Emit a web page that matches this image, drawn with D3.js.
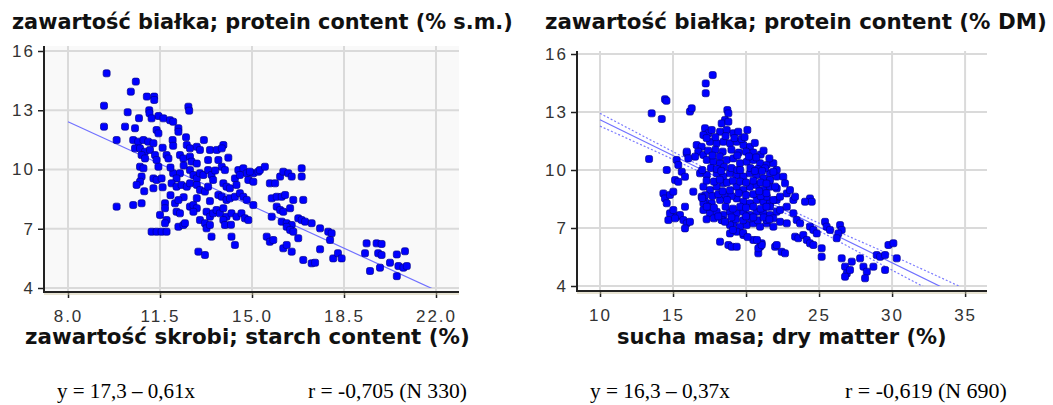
<!DOCTYPE html>
<html>
<head>
<meta charset="utf-8">
<script src="https://cdn.jsdelivr.net/npm/d3@7"></script>
<style>
  body { margin: 0; background: #fff; }
</style>
</head>
<body>
<svg id="chart" width="1053" height="405"></svg>
<script>
// starch content (%) vs protein content (% DM)
const starchPoints = [
  [9.47,14.87],[10.58,14.45],[10.39,13.94],[11.0,13.69],[11.28,13.69],[11.28,13.52],[9.37,13.23],[10.27,12.9],
  [11.09,13.0],[11.1,12.85],[12.58,13.18],[12.61,12.98],[11.44,12.71],[11.63,12.59],[11.88,12.5],[12.0,12.42],
  [11.18,12.59],[9.37,12.17],[10.17,12.17],[10.55,12.09],[11.37,12.0],[11.44,11.83],[12.2,12.09],[12.2,11.91],
  [12.49,11.63],[9.85,11.49],[11.98,11.49],[13.17,11.49],[10.48,11.49],[10.67,11.41],[10.87,11.49],[11.05,11.41],
  [11.25,11.33],[10.55,11.07],[10.74,11.07],[10.93,10.9],[11.12,10.99],[12.52,11.24],[12.64,11.07],[12.9,11.15],
  [13.02,10.99],[13.4,10.99],[13.66,10.99],[13.91,11.24],[13.85,11.07],[10.8,10.73],[10.93,10.56],[11.31,10.73],
  [11.37,10.48],[11.75,10.73],[11.82,10.56],[12.26,10.73],[12.39,10.56],[12.64,10.65],[12.7,10.4],[13.72,10.48],
  [13.85,10.14],[13.97,9.97],[13.33,10.48],[10.74,10.14],[10.87,10.06],[11.44,10.14],[12.0,9.81],[12.26,9.81],
  [12.13,9.55],[12.64,9.97],[12.77,9.72],[12.9,9.55],[13.02,9.81],[13.15,9.72],[13.33,9.97],[13.46,9.72],
  [13.52,9.47],[14.48,9.97],[14.67,10.06],[14.8,9.81],[15.05,9.81],[15.24,9.89],[14.35,9.55],[14.54,9.72],
  [14.86,9.47],[10.8,9.64],[10.74,9.38],[10.61,9.22],[11.25,9.55],[11.37,9.47],[11.56,9.55],[11.25,9.05],
  [11.94,9.3],[12.13,9.13],[12.32,9.22],[12.52,9.13],[12.64,9.3],[12.9,9.22],[13.02,8.96],[13.21,8.88],
  [13.33,9.13],[13.91,9.3],[14.03,9.13],[14.16,9.05],[14.41,9.22],[13.72,8.71],[13.85,8.62],[14.03,8.46],
  [14.16,8.54],[14.35,8.62],[14.54,8.8],[14.67,8.62],[14.8,8.46],[15.05,8.2],[9.85,8.12],[10.48,8.2],
  [10.8,8.29],[11.69,8.29],[11.69,8.04],[12.07,8.29],[12.13,7.86],[12.26,7.78],[12.64,8.12],[12.77,8.2],
  [12.9,8.04],[12.77,7.86],[13.27,7.86],[13.4,7.61],[13.52,7.78],[13.65,7.95],[13.78,7.78],[13.91,8.04],
  [14.03,7.61],[14.22,7.78],[14.41,7.61],[14.6,7.78],[14.73,7.53],[14.86,7.44],[11.5,7.7],[11.75,7.44],
  [11.69,7.28],[12.2,7.1],[12.39,7.19],[12.45,7.28],[13.02,7.44],[13.21,7.28],[13.27,7.02],[13.4,7.19],
  [13.91,7.44],[13.97,7.19],[11.18,6.85],[11.37,6.85],[11.56,6.85],[11.75,6.85],[13.46,6.6],[14.22,6.6],
  [14.35,6.18],[12.96,5.84],[13.21,5.67],[14.92,9.89],[15.05,9.38],[15.3,9.97],[15.49,10.14],[15.68,9.3],
  [15.88,9.3],[16.07,9.64],[16.19,9.89],[16.38,9.81],[16.51,9.64],[16.89,10.06],[16.89,9.64],[15.75,8.54],
  [15.94,8.62],[16.13,8.62],[16.26,8.71],[16.57,8.46],[16.95,8.46],[15.94,8.12],[16.07,7.95],[16.19,7.86],
  [16.45,8.04],[15.75,7.61],[16.13,7.36],[16.32,7.28],[16.51,7.19],[16.76,7.53],[16.89,7.44],[17.02,7.36],
  [17.27,7.28],[17.59,7.02],[17.9,6.85],[18.03,6.77],[16.32,7.1],[16.45,6.94],[16.57,6.85],[16.76,6.52],
  [15.56,6.6],[15.68,6.34],[15.81,6.43],[16.19,6.01],[16.32,6.18],[16.51,5.84],[16.95,5.42],[17.27,5.25],
  [17.4,5.28],[17.59,5.96],[17.97,6.43],[18.09,5.5],[18.27,5.76],[18.41,5.5],[19.3,5.76],[19.36,6.26],
  [19.74,6.26],[19.93,6.23],[19.8,5.76],[19.93,5.67],[19.49,4.86],[19.87,5.03],[20.25,5.28],[20.51,5.7],
  [20.82,5.86],[20.57,5.11],[20.76,5.03],[20.89,5.11],[20.51,4.6],
  [12.4,10.2],[12.9,10.3],[11.9,10.1],[12.4,8.6],[12.9,8.55],[13.4,8.4],[11.9,8.7],[12.2,8.45],
  [13.6,9.95],[14.1,10.6],[11.6,11.1],[12.0,11.2],[10.7,12.6],[10.9,8.9],[11.6,9.1],[14.2,7.2]
];

// dry matter (%) vs protein content (% DM)
const dryMatterPoints = [
  [17.72,14.91],[17.24,14.48],[17.24,13.97],[14.45,13.66],[14.55,13.58],[13.54,12.93],[14.23,12.64],[16.16,13.02],
  [16.28,13.19],[13.36,10.57],[14.57,10.0],[15.25,10.52],[15.36,10.26],[15.6,9.91],[15.82,9.65],[15.94,10.86],
  [15.14,9.48],[15.36,9.39],[14.34,8.79],[14.45,8.53],[14.57,8.28],[14.79,8.71],[15.02,8.88],[14.79,7.76],
  [15.02,7.93],[15.25,7.58],[15.48,7.67],[15.82,8.1],[14.68,7.41],[15.14,7.5],[15.71,7.41],[15.94,7.24],
  [16.16,7.32],[16.39,8.88],[15.82,6.98],[18.22,6.29],[18.79,6.12],[19.02,6.03],[19.36,6.03],[20.96,6.03],
  [20.84,5.69],[21.07,6.21],[18.72,13.1],[18.79,12.93],[18.56,12.59],[18.33,12.41],[18.79,12.5],[17.19,12.16],
  [17.42,11.9],[17.08,11.81],[17.65,12.07],[18.22,11.98],[18.68,12.07],[19.13,11.9],[19.47,11.98],[20.09,12.07],
  [16.62,11.29],[16.96,11.2],[16.73,10.95],[17.08,10.78],[16.51,10.69],[17.53,11.46],[17.99,11.38],[18.45,11.46],
  [18.9,11.38],[19.36,11.46],[19.82,11.29],[20.27,11.2],[15.94,10.95],[16.05,10.6],
  [17.31,10.52],[17.76,10.43],[18.22,10.35],[18.68,10.52],[19.13,10.6],[19.59,10.35],[20.05,10.43],[20.5,10.52],
  [20.96,10.35],[21.42,10.26],[21.87,10.35],[22.1,10.0],
  [16.85,9.83],[17.31,9.74],[17.99,9.83],[18.45,9.66],[18.9,9.83],[19.36,9.74],[19.82,9.66],[20.27,9.83],
  [20.73,9.74],[21.19,9.57],[21.64,9.83],[22.1,9.66],
  [17.08,9.14],[17.53,8.96],[17.99,9.14],[18.45,9.31],[19.36,9.14],[19.82,8.96],[20.27,9.14],[20.73,9.22],
  [21.19,8.96],[21.64,9.14],[22.1,9.05],
  [17.19,8.36],[17.65,8.28],[18.22,8.45],[19.36,8.53],[19.82,8.36],[20.27,8.28],[20.73,8.45],[21.19,8.36],
  [21.64,8.28],[22.1,8.45],
  [17.08,7.93],[17.53,7.76],[17.99,7.84],[18.45,7.67],[18.9,7.84],[19.36,7.76],[19.82,7.84],[20.27,7.67],
  [20.73,7.84],[21.19,7.76],[21.64,7.67],[22.1,7.84],
  [19.13,7.24],[19.59,7.07],[20.05,7.15],[20.5,7.24],[20.96,7.07],[21.42,7.24],[21.87,7.07],
  [18.9,6.72],[19.36,6.81],[19.82,6.64],[20.5,6.38],[20.84,5.95],[21.07,6.12],[21.99,6.03],
  [21.3,10.09],[21.87,9.91],[21.64,9.48],[21.99,9.14],[22.55,9.65],[22.67,9.31],[22.79,8.79],[23.01,8.96],
  [23.24,8.45],[23.36,8.62],[24.38,8.53],[24.5,8.36],[24.04,8.36],
  [21.42,8.62],[21.87,8.45],[22.33,8.62],[21.64,8.1],[22.33,7.93],[22.79,8.1],
  [23.24,7.76],[23.47,7.41],[23.7,7.24],[21.42,7.41],[21.87,7.5],[22.33,7.32],[22.79,7.24],
  [23.36,6.55],[23.58,6.47],[23.92,6.64],[24.16,6.38],[24.38,6.21],[24.61,6.12],[24.38,7.07],[24.61,6.9],[24.84,6.72],
  [22.1,6.12],[22.44,5.77],[22.67,5.69],
  [25.18,5.95],[25.18,5.51],[25.41,7.32],[25.52,7.07],[25.75,6.9],
  [26.44,7.15],[26.55,6.9],[26.32,6.72],[26.21,6.47],
  [26.55,5.43],[26.78,5.0],[26.9,4.65],[27.24,5.26],[27.12,4.83],[26.78,4.48],
  [27.81,5.43],[28.04,5.0],[28.27,4.74],[28.15,4.4],[28.72,5.0],[28.95,5.6],[29.18,5.51],[29.52,5.6],
  [29.75,6.12],[30.09,6.21],[30.32,5.43],[29.52,4.83],
  [17.3,11.65],[17.9,11.7],[18.6,11.75],[19.2,11.65],[19.7,11.6],
  [17.4,11.0],[17.9,11.05],[18.4,10.95],[19.0,11.05],[19.5,10.9],[20.0,10.95],[20.5,10.9],[21.0,10.8],
  [17.6,10.1],[18.0,10.05],[18.5,10.15],[19.0,10.1],[19.4,10.0],[20.3,10.1],[20.8,10.05],
  [17.3,9.45],[17.8,9.4],[18.2,9.5],[18.7,9.35],[19.1,9.45],[19.6,9.4],[20.0,9.35],[20.5,9.45],[21.0,9.35],[21.4,9.3],
  [17.2,8.7],[17.7,8.65],[18.1,8.75],[18.6,8.7],[19.0,8.65],[19.5,8.8],[20.0,8.7],[20.5,8.75],[21.0,8.65],[21.4,8.8],
  [17.4,8.1],[17.8,8.05],[18.6,8.1],[19.1,8.0],[19.6,8.1],[20.0,8.05],[20.5,8.1],[21.0,8.0],[21.4,8.1],
  [17.3,7.45],[17.8,7.5],[18.4,7.4],[19.3,7.45],[19.8,7.4],[20.3,7.5],[20.8,7.4],[21.2,7.55],
  [18.9,7.15],[19.1,6.9],[19.8,6.74],[20.1,6.53],[20.75,6.38],[18.33,7.41],[18.56,7.32],
  [16.96,8.62],[17.08,8.28],[17.31,8.1],
  [17.7,10.75],[18.2,10.7],[19.4,10.75],[20.2,10.7],[20.7,10.65],[17.0,10.0],[18.3,9.95],[19.6,10.0],
  [20.6,9.95],[21.1,9.95],[18.9,8.95],[18.4,8.9],[20.9,8.9],[18.7,8.45],[17.0,8.55],[18.1,7.6],
  [19.0,7.55],[20.0,7.6],[20.5,7.55],[21.6,7.45],[19.9,11.7],[20.6,11.4],[21.2,11.0],[21.6,10.6]
];

const yTicks = [4, 7, 10, 13, 16];
const starchTicks = [8.0, 11.5, 15.0, 18.5, 22.0];
const dryMatterTicks = [10, 15, 20, 25, 30, 35];

// regression lines: intercept, slope
const starchFit = { a: 17.3, b: -0.61, from: 8 };
const dryMatterFit = { a: 16.3, b: -0.37, from: 10 };
// confidence band half-width around the dry matter fit
const bandX = [10, 15, 20, 25, 30, 35];
const bandHalf = [0.33, 0.2, 0.12, 0.2, 0.38, 0.5];

const svg = d3.select("#chart");

function fitWidth(sel, target) {
  const w = sel.node().getComputedTextLength();
  const fs = parseFloat(sel.attr("font-size"));
  sel.attr("font-size", fs * target / w);
}

function drawPanel(p) {
  const g = svg.append("g");
  const x = d3.scaleLinear().domain(p.xDomain).range(p.xRange);
  const y = d3.scaleLinear().domain([4, 16]).range(p.yRange);

  g.append("rect")
    .attr("x", p.left).attr("y", p.top)
    .attr("width", p.right - p.left).attr("height", p.bottom - p.top)
    .attr("fill", p.bg);

  // grid
  g.selectAll(".vg").data(p.xTicks).join("line")
    .attr("x1", d => x(d)).attr("x2", d => x(d))
    .attr("y1", p.top).attr("y2", p.bottom)
    .attr("stroke", "#dadada").attr("stroke-width", 2);
  g.selectAll(".hg").data(yTicks).join("line")
    .attr("y1", d => y(d)).attr("y2", d => y(d))
    .attr("x1", p.left).attr("x2", p.right)
    .attr("stroke", "#dadada").attr("stroke-width", 2);

  // fit lines, clipped at y = 4
  const clipId = "clip" + p.id;
  g.append("clipPath").attr("id", clipId)
    .append("rect")
    .attr("x", p.left).attr("y", p.top)
    .attr("width", p.right - p.left).attr("height", y(4) - p.top);
  const lines = g.append("g").attr("clip-path", `url(#${clipId})`);
  const xEnd = p.xDomain[1];
  lines.append("line")
    .attr("x1", x(p.fit.from)).attr("y1", y(p.fit.a + p.fit.b * p.fit.from))
    .attr("x2", x(xEnd)).attr("y2", y(p.fit.a + p.fit.b * xEnd))
    .attr("stroke", "#7070ff").attr("stroke-width", 1.2);
  if (p.band) {
    [1, -1].forEach(sign => {
      const band = d3.line()
        .x(d => x(d[0]))
        .y(d => y(p.fit.a + p.fit.b * d[0] + sign * d[1]))
        .curve(d3.curveMonotoneX);
      lines.append("path")
        .attr("d", band(bandX.map((v, i) => [v, bandHalf[i]])))
        .attr("fill", "none")
        .attr("stroke", "#7a7aff")
        .attr("stroke-width", 1.2)
        .attr("stroke-dasharray", "2,2");
    });
  }

  // points
  const s = 7;
  g.selectAll(".pt").data(p.points).join("rect")
    .attr("x", d => x(d[0]) - s / 2)
    .attr("y", d => y(d[1]) - s / 2)
    .attr("width", s).attr("height", s)
    .attr("rx", 2)
    .attr("fill", "#0000ff")
    .attr("stroke", "#00008c")
    .attr("stroke-width", 0.7);

  // axes
  const yAxis = g.append("g")
    .attr("transform", `translate(${p.left},0)`)
    .call(d3.axisLeft(y).tickValues(yTicks).tickSize(6).tickPadding(3).tickFormat(d3.format("d")));
  const xAxis = g.append("g")
    .attr("transform", `translate(0,${p.bottom})`)
    .call(d3.axisBottom(x).tickValues(p.xTicks).tickSize(6).tickPadding(12).tickFormat(p.fmt));
  [yAxis, xAxis].forEach(a => {
    a.select(".domain").remove();
    a.selectAll(".tick line").attr("stroke", "#222").attr("stroke-width", 1.5);
    a.selectAll(".tick text")
      .attr("fill", "#333")
      .attr("font-family", "Liberation Sans, Arial, sans-serif")
      .attr("font-size", 17)
      .attr("letter-spacing", 2);
  });

  g.append("line")
    .attr("x1", p.left).attr("x2", p.right)
    .attr("y1", p.bottom + 2).attr("y2", p.bottom + 2)
    .attr("stroke", "#cfc7a6").attr("stroke-width", 1);
  g.append("line")
    .attr("x1", p.left).attr("x2", p.right)
    .attr("y1", p.bottom).attr("y2", p.bottom)
    .attr("stroke", "#222").attr("stroke-width", 2);
  g.append("line")
    .attr("x1", p.left).attr("x2", p.left)
    .attr("y1", p.top).attr("y2", p.bottom + 1)
    .attr("stroke", "#222").attr("stroke-width", 2);

  // texts
  const title = svg.append("text")
    .attr("x", p.titleX).attr("y", 29)
    .attr("font-family", "DejaVu Sans, Verdana, sans-serif")
    .attr("font-weight", "bold").attr("font-size", 18)
    .attr("fill", "#111")
    .text(p.title);
  fitWidth(title, p.titleW);

  const xTitle = svg.append("text")
    .attr("x", p.xTitleX).attr("y", 344)
    .attr("font-family", "DejaVu Sans, Verdana, sans-serif")
    .attr("font-weight", "bold").attr("font-size", 18)
    .attr("fill", "#111")
    .text(p.xTitle);
  fitWidth(xTitle, p.xTitleW);

  p.notes.forEach(n => {
    const t = svg.append("text")
      .attr("x", n.x).attr("y", 398)
      .attr("font-family", "Liberation Serif, Times New Roman, serif")
      .attr("font-size", 18)
      .attr("fill", "#000")
      .text(n.text);
    fitWidth(t, n.w);
  });
}

drawPanel({
  id: "a",
  left: 44, right: 459, top: 46, bottom: 292,
  xDomain: [8, 22.875], xRange: [68, 459],
  yRange: [288, 51],
  bg: "#f9f9f9",
  xTicks: starchTicks, fmt: d3.format(".1f"),
  points: starchPoints,
  fit: starchFit, band: false,
  title: "zawartość białka; protein content (% s.m.)", titleX: 12, titleW: 501,
  xTitle: "zawartość skrobi; starch content (%)", xTitleX: 25, xTitleW: 445,
  notes: [
    { x: 57, w: 138, text: "y = 17,3 – 0,61x" },
    { x: 308, w: 159, text: "r  = -0,705 (N 330)" }
  ]
});

drawPanel({
  id: "b",
  left: 577, right: 987, top: 51, bottom: 291,
  xDomain: [10, 36.5], xRange: [600, 987],
  yRange: [286, 54],
  bg: "#ffffff",
  xTicks: dryMatterTicks, fmt: d3.format("d"),
  points: dryMatterPoints,
  fit: dryMatterFit, band: true,
  title: "zawartość białka; protein content (% DM)", titleX: 545, titleW: 502,
  xTitle: "sucha masa; dry matter (%)", xTitleX: 617, xTitleW: 330,
  notes: [
    { x: 590, w: 140, text: "y = 16,3 – 0,37x" },
    { x: 845, w: 162, text: "r  = -0,619 (N 690)" }
  ]
});
</script>
</body>
</html>
